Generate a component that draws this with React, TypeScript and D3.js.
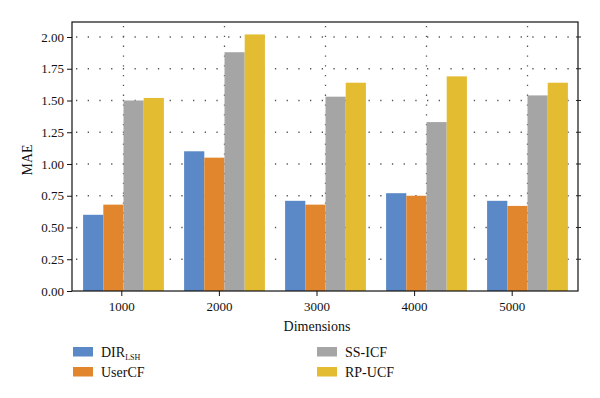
import React, { useEffect, useRef } from 'react';
import * as d3 from 'd3';

const categories = ['1000', '2000', '3000', '4000', '5000'];
const seriesNames = ['DIR', 'UserCF', 'SS-ICF', 'RP-UCF'];
const dirLsh = [0.6, 1.1, 0.71, 0.77, 0.71];
const userCF = [0.68, 1.05, 0.68, 0.75, 0.67];
const ssICF = [1.5, 1.88, 1.53, 1.33, 1.54];
const rpUCF = [1.52, 2.02, 1.64, 1.69, 1.64];
const yTicks = [0, 0.25, 0.5, 0.75, 1, 1.25, 1.5, 1.75, 2];

const colors = ['#5b88c6', '#e2862e', '#a5a5a5', '#e3bc31'];
const FONT = '"Liberation Serif", "DejaVu Serif", serif';

const MaeChart = () => {
  const svgRef = useRef<SVGSVGElement>(null);

  useEffect(() => {
    const svg = d3.select(svgRef.current);
    svg.selectAll('*').remove();

    // plot frame
    const left = 72, right = 578, top = 22, bottom = 291;
    const series = [dirLsh, userCF, ssICF, rpUCF];

    const y = d3.scaleLinear().domain([0, 2.118]).range([bottom, top]);

    // bars use the full frame width, the tick labels sit on a slightly narrower band
    const x = d3.scaleBand().domain(categories).range([left + 1, right]).paddingInner(0.2).paddingOuter(0.1);
    const xAxisScale = d3.scaleBand().domain(categories).range([left + 1, 561]);
    const x1 = d3.scaleBand().domain(seriesNames).range([0, x.bandwidth()]);

    // dotted grid
    const grid = svg.append('g').attr('stroke', '#555').attr('stroke-width', 1.3)
      .attr('stroke-dasharray', '1.3,10.4').attr('stroke-linecap', 'butt');
    grid.selectAll('line.h')
      .data(yTicks.slice(1))
      .join('line')
      .attr('class', 'h')
      .attr('x1', left + 4).attr('x2', right)
      .attr('y1', d => y(d)).attr('y2', d => y(d));
    grid.selectAll('line.v')
      .data(categories)
      .join('line')
      .attr('class', 'v')
      .attr('x1', d => x(d)! + x.bandwidth() / 2).attr('x2', d => x(d)! + x.bandwidth() / 2)
      .attr('y1', top + 4).attr('y2', bottom)
      .attr('stroke-dasharray', '1.3,8.5');

    // bars
    const groups = svg.append('g').selectAll('g')
      .data(categories)
      .join('g')
      .attr('transform', d => `translate(${x(d)},0)`);
    groups.selectAll('rect')
      .data((d, i) => series.map((s, k) => ({ key: seriesNames[k], value: s[i], k })))
      .join('rect')
      .attr('x', d => x1(d.key)!)
      .attr('y', d => y(d.value))
      .attr('width', x1.bandwidth())
      .attr('height', d => bottom - y(d.value))
      .attr('fill', d => colors[d.k]);

    // frame
    svg.append('rect')
      .attr('x', left).attr('y', top)
      .attr('width', right - left).attr('height', bottom - top)
      .attr('fill', 'none').attr('stroke', '#111').attr('stroke-width', 1.2);

    // right side small ticks
    svg.append('g').selectAll('line')
      .data(yTicks.slice(1))
      .join('line')
      .attr('x1', right - 2).attr('x2', right + 3)
      .attr('y1', d => y(d)).attr('y2', d => y(d))
      .attr('stroke', '#222').attr('stroke-width', 1);

    // y axis
    const yAxis = svg.append('g')
      .attr('transform', `translate(${left},0)`)
      .call(d3.axisLeft(y).tickValues(yTicks).tickFormat(d3.format('.2f')).tickSize(5).tickPadding(3));
    yAxis.select('.domain').remove();
    yAxis.selectAll('line').attr('stroke', '#111');
    yAxis.selectAll('text').attr('font-family', FONT).attr('font-size', 13).attr('fill', '#111');

    // x axis
    const xAxis = svg.append('g')
      .attr('transform', `translate(0,${bottom})`)
      .call(d3.axisBottom(xAxisScale).tickSize(5).tickPadding(6));
    xAxis.select('.domain').remove();
    xAxis.selectAll('line').attr('stroke', '#111');
    xAxis.selectAll('text').attr('font-family', FONT).attr('font-size', 13).attr('fill', '#111');

    // axis titles
    svg.append('text')
      .attr('x', xAxisScale('3000')! + xAxisScale.bandwidth() / 2).attr('y', 331)
      .attr('text-anchor', 'middle')
      .attr('font-family', FONT).attr('font-size', 14).attr('fill', '#111')
      .text('Dimensions');
    svg.append('text')
      .attr('transform', 'translate(32,160) rotate(-90)')
      .attr('text-anchor', 'middle')
      .attr('font-family', FONT).attr('font-size', 14).attr('fill', '#111')
      .text('MAE');

    // legend
    const legendPos = [[73, 347], [73, 367], [317, 347], [317, 367]];
    const legend = svg.append('g').selectAll('g')
      .data(seriesNames)
      .join('g')
      .attr('transform', (d, i) => `translate(${legendPos[i][0]},${legendPos[i][1]})`);
    legend.append('rect')
      .attr('width', 20).attr('height', 9.5)
      .attr('fill', (d, i) => colors[i]);
    const lt = legend.append('text')
      .attr('x', 28).attr('y', 10)
      .attr('font-family', FONT).attr('font-size', 14).attr('fill', '#111')
      .text(d => d);
    lt.filter((d, i) => i === 0)
      .append('tspan')
      .attr('font-size', 8).attr('dy', 3)
      .text('LSH');
  }, []);

  return <svg ref={svgRef} width={600} height={398} style={{ display: 'block' }}></svg>;
};

const App = () => (
  <div style={{ margin: -8 }}>
    <MaeChart />
  </div>
);

export default App;
